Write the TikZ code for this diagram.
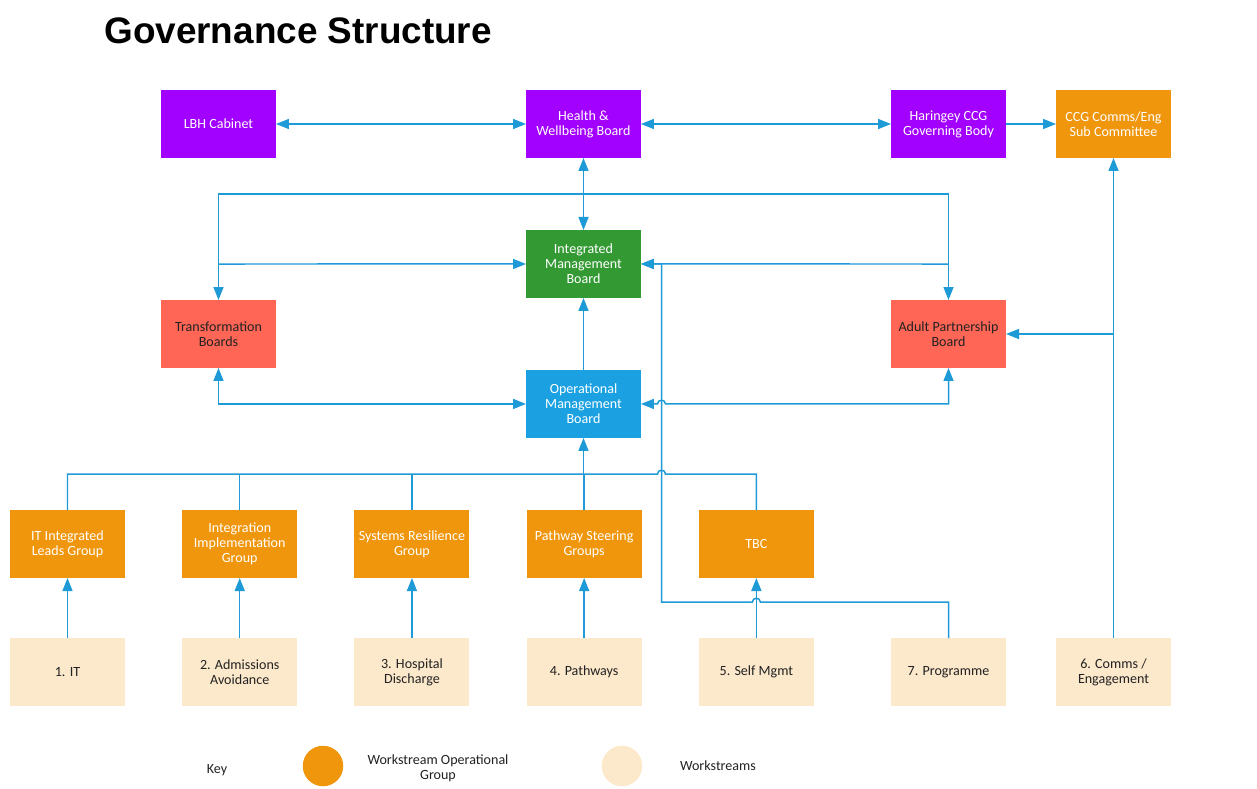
\documentclass[tikz,border=0pt]{standalone}
\usepackage{fontspec}
\setmainfont{Carlito}
\newfontfamily\titlefont{Liberation Sans}
\usetikzlibrary{positioning,arrows.meta,calc}
\definecolor{purp}{HTML}{A200FF}
\definecolor{grn}{HTML}{339933}
\definecolor{redb}{HTML}{FF6655}
\definecolor{blu}{HTML}{1BA1E2}
\definecolor{orng}{HTML}{F0960C}
\definecolor{pale}{HTML}{FCE8CB}
\definecolor{lnk}{HTML}{1E9AD6}
\definecolor{ink}{HTML}{222222}

\begin{document}
\begin{tikzpicture}[x=0.02cm,y=-0.02cm,>={Triangle[length=2.6mm,width=2mm]},
  node distance=1.145cm,
  box/.style={rectangle,minimum width=2.3cm,minimum height=1.36cm,align=center,
    inner sep=1pt,outer sep=0pt,font=\fontsize{8}{8.6}\selectfont},
  board/.style={box,fill=#1,text=white},
  redbox/.style={box,fill=redb,text=ink},
  ws/.style={box,fill=pale,text=ink},
  link/.style={draw=lnk,line width=0.85pt}]
  \useasboundingbox (0,0) rectangle (1257,788);
  \node[font=\titlefont\fontsize{21}{24}\selectfont\bfseries,anchor=base west,inner sep=0]
    (title) at (104,43) {Governance Structure};

  % boards
  \node[board=purp] (lbh) at (218.5,124) {LBH Cabinet};
  \node[board=purp] (hwb) at (583.5,124) {Health \&\\Wellbeing Board};
  \node[board=purp] (ccg_gov) at (948.5,124) {Haringey CCG\\Governing Body};
  \node[board=orng] (ccg_com) at (1113.5,124) {CCG Comms/Eng\\Sub Committee};
  \node[board=grn] (imb) [below=1.44cm of hwb] {Integrated\\Management\\Board};
  \node[board=blu] (omb) [below=1.44cm of imb] {Operational\\Management\\Board};
  \node[redbox] (trans) at (218.5,334) {Transformation\\Boards};
  \node[redbox] (apb) at (948.5,334) {Adult Partnership\\Board};

  % workstreams and their groups
  \node[ws] (w_1) at (67.5,672) {1. IT};
  \node[ws] (w_2) [right=of w_1] {2. Admissions\\Avoidance};
  \node[ws] (w_3) [right=of w_2] {3. Hospital\\Discharge};
  \node[ws] (w_4) [right=of w_3] {4. Pathways};
  \node[ws] (w_5) [right=of w_4] {5. Self Mgmt};
  \node[ws] (w_7) at (948.5,672) {7. Programme};
  \node[ws] (w_6) at (1113.5,672) {6. Comms /\\Engagement};
  \node[board=orng] (g_1) [above=1.2cm of w_1] {IT Integrated\\Leads Group};
  \node[board=orng] (g_2) [above=1.2cm of w_2] {Integration\\Implementation\\Group};
  \node[board=orng] (g_3) [above=1.2cm of w_3] {Systems Resilience\\Group};
  \node[board=orng] (g_4) [above=1.2cm of w_4] {Pathway Steering\\Groups};
  \node[board=orng] (g_5) [above=1.2cm of w_5] {TBC};

  % connectors
  \coordinate (top_bar) at (583.5,194);
  \coordinate (mid_bar) at (583.5,264);
  \coordinate (ret) at (661.5,602);
  \coordinate (bus) at (583.5,474);
  \draw[link,<->] (lbh) -- (hwb);
  \draw[link,<->] (hwb) -- (ccg_gov);
  \draw[link,->] (ccg_gov) -- (ccg_com);
  \draw[link,<->] (hwb) -- (imb);
  \draw[link,->] (omb) -- (imb);
  \draw[link,<->] (trans.north) -- (trans.north |- top_bar) -- (apb.north |- top_bar) -- (apb.north);
  \draw[link,->] (trans.north |- mid_bar) -- (imb.west);
  \draw[link,->] (apb.north |- mid_bar) -- (imb.east);
  \draw[link,->] (w_7.north) -- (w_7.north |- ret) -- ($(w_5.north |- ret)+(4,0)$)
    .. controls +(0,-5) and +(0,-5) .. ($(w_5.north |- ret)+(-4,0)$) -- (ret)
    -- (ret |- imb.east) -- (imb.east);
  \draw[link,<->] (trans.south) -- (trans.south |- omb.west) -- (omb.west);
  \draw[link,<->] (apb.south) -- (apb.south |- omb.east) -- ($(ret |- omb.east)+(4,0)$)
    .. controls +(0,-5) and +(0,-5) .. ($(ret |- omb.east)+(-4,0)$) -- (omb.east);
  \draw[link] (g_1.north) -- (g_1.north |- bus) -- ($(ret |- bus)+(-4,0)$)
    .. controls +(0,-5) and +(0,-5) .. ($(ret |- bus)+(4,0)$) -- (g_5.north |- bus) -- (g_5.north);
  \foreach \g in {g_2,g_3,g_4}
    \draw[link] (\g.north) -- (\g.north |- bus);
  \draw[link,->] (bus) -- (omb.south);
  \foreach \i in {1,...,5}
    \draw[link,->] (w_\i) -- (g_\i);
  \draw[link,->] (w_6) -- (ccg_com);
  \draw[link,->] (w_6.north |- apb.east) -- (apb.east);

  % key
  \node[text=ink,font=\fontsize{8}{8.6}\selectfont] (key) at (217,770) {Key};
  \node[circle,fill=orng,minimum size=0.81cm,inner sep=0] (k_1) at (323,766) {};
  \node[text=ink,align=center,font=\fontsize{8}{8.6}\selectfont] (k_1t) at (438,768) {Workstream Operational\\Group};
  \node[circle,fill=pale,minimum size=0.81cm,inner sep=0] (k_2) at (622,766) {};
  \node[text=ink,font=\fontsize{8}{8.6}\selectfont] (k_2t) at (718,766) {Workstreams};
\end{tikzpicture}
\end{document}
